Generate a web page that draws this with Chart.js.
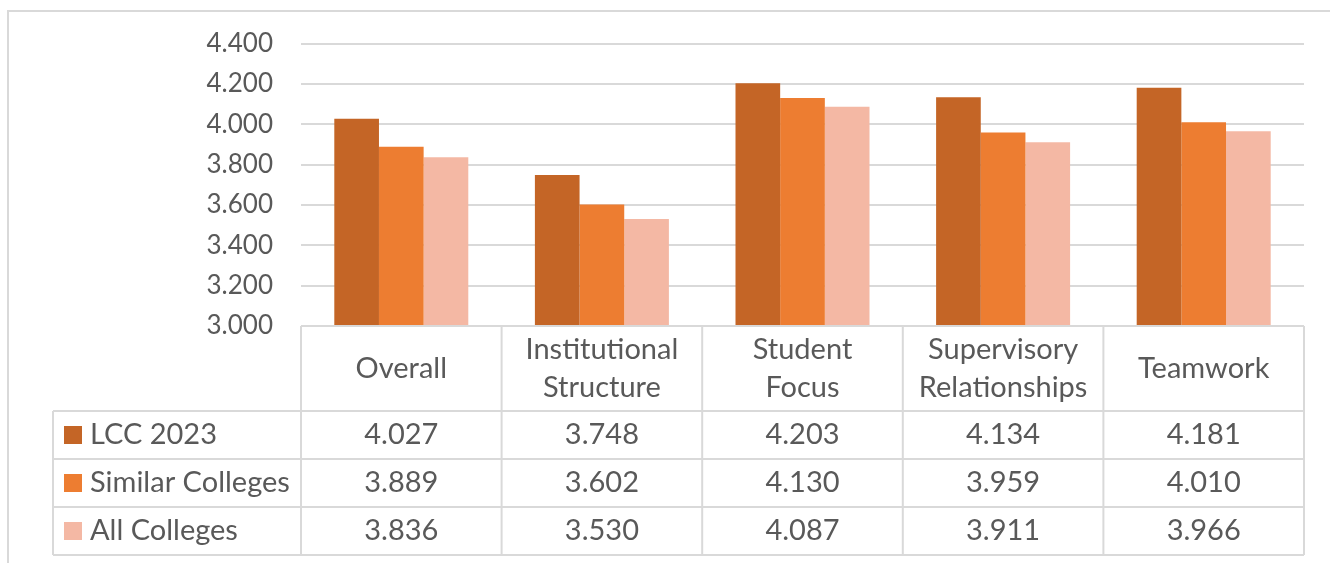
<!DOCTYPE html>
<html>
<head>
<meta charset="utf-8">
<script src="https://cdn.jsdelivr.net/npm/chart.js@4/dist/chart.umd.min.js"></script>
<style>
  html, body { margin: 0; padding: 0; background: #fff; }
  #wrap { position: relative; width: 1330px; height: 563px; }
</style>
</head>
<body>
<div id="wrap"><canvas id="bars"></canvas></div>
<script>
// categories (header text split in lines as in the data table)
var categories = [
  ["Overall"],
  ["Institutional", "Structure"],
  ["Student", "Focus"],
  ["Supervisory", "Relationships"],
  ["Teamwork"]
]
var seriesNames = ["LCC 2023", "Similar Colleges", "All Colleges"]
var lcc2023 = [4.027, 3.748, 4.203, 4.134, 4.181]
var similarColleges = [3.889, 3.602, 4.130, 3.959, 4.010]
var allColleges = [3.836, 3.530, 4.087, 3.911, 3.966]
var colors = ["#C46526", "#ED7D31", "#F4B8A4"]

var textColor = "#595959"
var lineColor = "#D9D9D9"
var fontFamily = "Lato, 'Open Sans', sans-serif"

// draws the data table under the plot, columns taken from the x scale
var dataTable = {
  id: 'dataTable',
  afterDraw: function(chart) {
    var ctx = chart.ctx
    var x = chart.scales.x
    var area = chart.chartArea
    var n = categories.length
    var colW = (area.right - area.left) / n
    var top = area.bottom
    var headerBottom = 411
    var rowH = 48
    var tableLeft = 53
    var bottom = headerBottom + rowH * seriesNames.length

    ctx.save()
    // outer frame of the chart
    ctx.strokeStyle = lineColor
    ctx.lineWidth = 2
    ctx.beginPath()
    ctx.moveTo(8, 563)
    ctx.lineTo(8, 11)
    ctx.lineTo(1330, 11)
    ctx.stroke()

    // table lines
    ctx.beginPath()
    ctx.moveTo(area.left, top)
    ctx.lineTo(area.right, top)
    for (var r = 0; r <= seriesNames.length; r++) {
      ctx.moveTo(tableLeft, headerBottom + r * rowH)
      ctx.lineTo(area.right, headerBottom + r * rowH)
    }
    for (var c = 0; c <= n; c++) {
      var cx = area.left + c * colW
      ctx.moveTo(cx, top)
      ctx.lineTo(cx, bottom)
    }
    ctx.moveTo(tableLeft, headerBottom)
    ctx.lineTo(tableLeft, bottom)
    ctx.stroke()

    ctx.fillStyle = textColor
    ctx.font = "29px " + fontFamily
    ctx.textAlign = "center"
    ctx.textBaseline = "middle"
    var headerMid = (top + headerBottom) / 2
    categories.forEach(function(lines, i) {
      var cx = x.getPixelForValue(i)
      var lh = 38
      lines.forEach(function(line, j) {
        var y = headerMid + (j - (lines.length - 1) / 2) * lh
        ctx.fillText(line, cx, y)
      })
    })

    chart.data.datasets.forEach(function(ds, r) {
      var cy = headerBottom + r * rowH + rowH / 2
      ctx.fillStyle = ds.backgroundColor
      ctx.fillRect(64, cy - 9, 18, 18)
      ctx.fillStyle = textColor
      ctx.textAlign = "left"
      ctx.fillText(ds.label, 90, cy)
      ctx.textAlign = "center"
      ds.data.forEach(function(v, i) {
        ctx.fillText(v.toFixed(3), x.getPixelForValue(i), cy)
      })
    })
    ctx.restore()
  }
}

var ctx = document.getElementById("bars").getContext('2d')
var chart = new Chart(ctx, {
  type: 'bar',
  data: {
    labels: categories.map(function(l) { return l.join(" ") }),
    datasets: [
      { label: seriesNames[0], data: lcc2023, backgroundColor: colors[0] },
      { label: seriesNames[1], data: similarColleges, backgroundColor: colors[1] },
      { label: seriesNames[2], data: allColleges, backgroundColor: colors[2] }
    ]
  },
  options: {
    responsive: true,
    maintainAspectRatio: false,
    animation: false,
    devicePixelRatio: 1,
    layout: { padding: { top: 43, right: 26, bottom: 237, left: 0 } },
    datasets: { bar: { categoryPercentage: 0.668, barPercentage: 1.0 } },
    plugins: { legend: { display: false }, tooltip: { enabled: false } },
    scales: {
      x: { display: false },
      y: {
        min: 3, max: 4.4,
        afterFit: function(scale) { scale.width = 301 },
        ticks: {
          stepSize: 0.2,
          padding: 28,
          color: textColor,
          font: { family: fontFamily, size: 26 },
          callback: function(v) { return Number(v).toFixed(3) }
        },
        grid: { color: lineColor, lineWidth: 2, drawTicks: false },
        border: { display: false }
      }
    }
  },
  plugins: [dataTable]
})
</script>
</body>
</html>
